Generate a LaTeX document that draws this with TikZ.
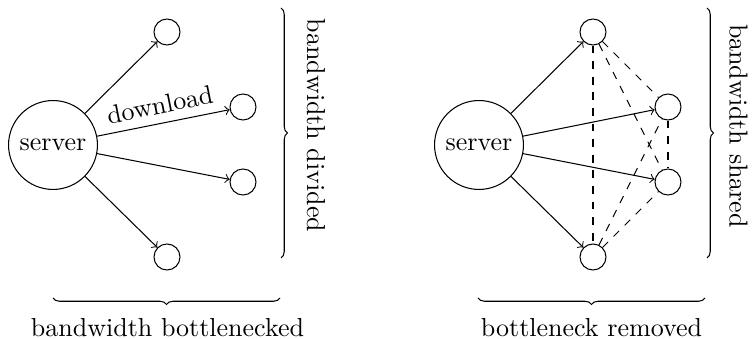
\documentclass[tikz,border=0pt]{standalone}
\usetikzlibrary{decorations.pathreplacing}
\begin{document}
\begin{tikzpicture}[x=0.3846pt, y=0.3846pt,
  servernode/.style={circle, draw},
  client/.style={circle, draw, minimum size=10pt, inner sep=0pt},
  link/.style={->},
  peer/.style={dashed},
  bracedeco/.style={decorate, decoration={brace}},
  sidelabel/.style={rotate=-90, inner sep=0pt},
  bottomlabel/.style={inner sep=0pt}]
\useasboundingbox (0,0) rectangle (755,339);

% left diagram
\node[servernode] (s1) at (53,194) {server};
\node[client] (a1) at (167,307) {};
\node[client] (a2) at (243,232) {};
\node[client] (a3) at (243,157) {};
\node[client] (a4) at (167,82) {};
\draw[link] (s1) -- (a1);
\draw[link] (s1) -- node[midway, above, sloped] {download} (a2);
\draw[link] (s1) -- (a3);
\draw[link] (s1) -- (a4);

\coordinate (lb1) at (281,331);
\coordinate (lb2) at (281,81);
\draw[bracedeco] (lb1) -- (lb2);
\node[sidelabel] (ll) at (316,213.5) {bandwidth divided};
\coordinate (lc1) at (280,41);
\coordinate (lc2) at (53,41);
\draw[bracedeco] (lc1) -- (lc2);
\node[bottomlabel] (lbot) at (167.5,11) {bandwidth bottlenecked};

% right diagram
\node[servernode] (s2) at (479,194) {server};
\node[client] (b1) at (593,307) {};
\node[client] (b2) at (668,232) {};
\node[client] (b3) at (668,157) {};
\node[client] (b4) at (593,82) {};
\draw[link] (s2) -- (b1);
\draw[link] (s2) -- (b2);
\draw[link] (s2) -- (b3);
\draw[link] (s2) -- (b4);
\draw[peer] (b1) -- (b4);
\draw[peer] (b1) -- (b2);
\draw[peer] (b1) -- (b3);
\draw[peer] (b4) -- (b2);
\draw[peer] (b4) -- (b3);
\draw[peer] (b2) -- (b3);

\coordinate (rb1) at (707,331);
\coordinate (rb2) at (707,81);
\draw[bracedeco] (rb1) -- (rb2);
\node[sidelabel] (rl) at (738.5,213) {bandwidth shared};
\coordinate (rc1) at (705,41);
\coordinate (rc2) at (478,41);
\draw[bracedeco] (rc1) -- (rc2);
\node[bottomlabel] (rbot) at (591.5,11) {bottleneck removed};
\end{tikzpicture}
\end{document}
